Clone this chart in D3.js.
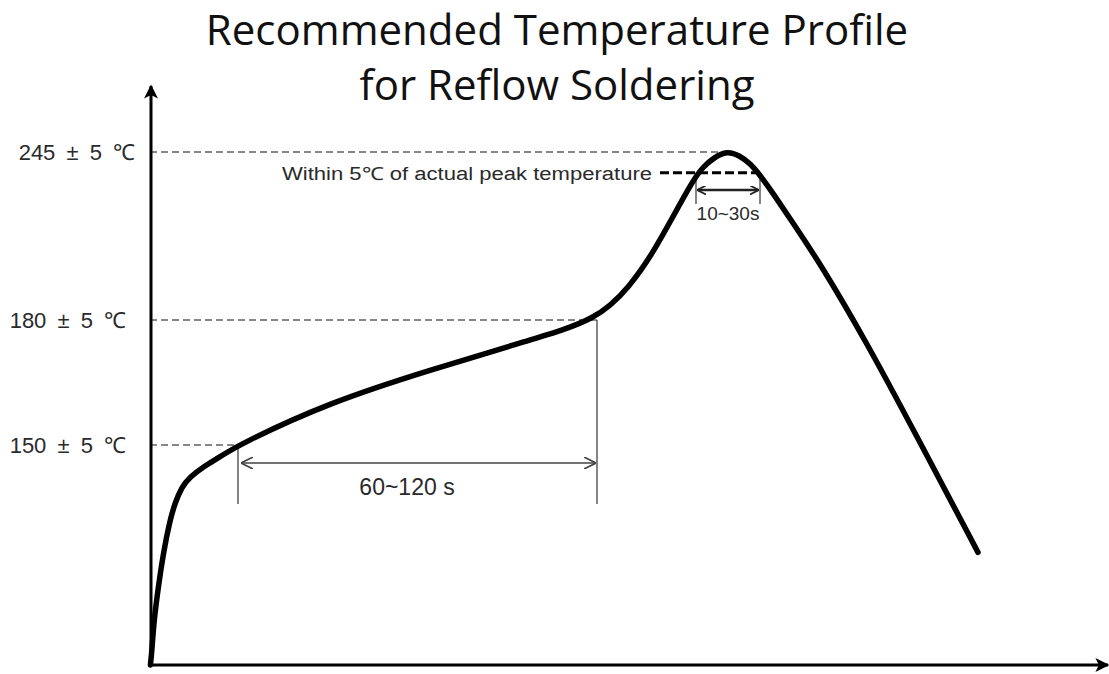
<!DOCTYPE html>
<html>
<head>
<meta charset="utf-8">
<script src="https://cdn.jsdelivr.net/npm/d3@7"></script>
<style>
  body { margin: 0; background: #fff; }
  svg { display: block; }
  .lbl { font-family: "Liberation Sans", Arial, sans-serif; fill: #2a2a2a; }
  .title { font-family: "Open Sans", sans-serif; fill: #111; }
</style>
</head>
<body>
<svg id="chart" width="1109" height="674"></svg>
<script>
// profile: time (s) and temperature (°C)
const profileTime = [0.1, 0.43, 1, 2.08, 3.33, 5, 6.25, 7.9, 10, 13.25, 17.5, 22, 45, 70, 95, 111.75,
  120, 125.75, 130.75, 135.8, 138.3, 140.8, 144.25, 147.5, 150, 152.5, 155.75, 160.75, 167.5, 179.25, 191.75, 207];
const profileTemp = [25, 31.8, 50.6, 69.3, 88.6, 107.4, 117, 126.1, 131.8, 137.5, 143.2, 150, 160.3, 168, 175.2, 180,
  193, 206, 220, 234.2, 239.3, 242.6, 245.5, 243.5, 240.6, 236.1, 229.1, 217.5, 202, 174.5, 152, 89];

const levelTemps = [245, 180, 150];
const levelLabels = ["245 ± 5 ℃", "180 ± 5 ℃", "150 ± 5 ℃"];
const levelEndTimes = [142, 111.75, 22];

const soakTimes = [22, 111.75];
const soakLabel = "60~120 s";
const peakWindowTimes = [136.5, 152.5];
const peakWindowTemp = 237;
const peakWindowLabel = "10~30s";
const peakNote = "Within 5℃ of actual peak temperature";
const titleLines = ["Recommended  Temperature Profile", "for  Reflow Soldering"];

const svg = d3.select("#chart");

// schematic axis: time is linear, temperature is stretched piecewise like the drawing
const x = d3.scaleLinear().domain([0, 240]).range([150, 1110]);
const y = d3.scaleLinear().domain([25, 150, 180, 245]).range([665, 445, 320, 152]);

const profile = profileTime.map((t, i) => [t, profileTemp[i]]);

// title
svg.selectAll(".title")
  .data(titleLines)
  .enter()
  .append("text")
  .attr("class", "title")
  .attr("x", 557)
  .attr("y", (d, i) => 45 + i * 55)
  .attr("text-anchor", "middle")
  .attr("font-size", 42)
  .text(d => d);

// markers
const defs = svg.append("defs");
defs.append("marker")
  .attr("id", "axisHead")
  .attr("viewBox", "0 0 10 10")
  .attr("refX", 9).attr("refY", 5)
  .attr("markerUnits", "userSpaceOnUse")
  .attr("markerWidth", 16).attr("markerHeight", 14)
  .attr("orient", "auto")
  .append("path").attr("d", "M0,0 L10,5 L0,10 L2.5,5 Z").attr("fill", "#000");

defs.append("marker")
  .attr("id", "openHead")
  .attr("viewBox", "0 0 10 10")
  .attr("refX", 10).attr("refY", 5)
  .attr("markerUnits", "userSpaceOnUse")
  .attr("markerWidth", 12).attr("markerHeight", 12)
  .attr("orient", "auto-start-reverse")
  .append("path").attr("d", "M0,0 L10,5 L0,10").attr("fill", "none").attr("stroke", "#444").attr("stroke-width", 1.4);

defs.append("marker")
  .attr("id", "solidHead")
  .attr("viewBox", "0 0 10 10")
  .attr("refX", 9).attr("refY", 5)
  .attr("markerUnits", "userSpaceOnUse")
  .attr("markerWidth", 9).attr("markerHeight", 9)
  .attr("orient", "auto-start-reverse")
  .append("path").attr("d", "M0,0 L10,5 L0,10").attr("fill", "none").attr("stroke", "#222").attr("stroke-width", 2);

// dashed guide lines from the y axis to the curve
svg.selectAll(".level")
  .data(levelTemps)
  .enter()
  .append("line")
  .attr("x1", x(0))
  .attr("x2", (d, i) => x(levelEndTimes[i]))
  .attr("y1", d => y(d))
  .attr("y2", d => y(d))
  .attr("stroke", "#111")
  .attr("stroke-width", 1)
  .attr("stroke-dasharray", "7,4");

svg.selectAll(".levelLbl")
  .data(levelTemps)
  .enter()
  .append("text")
  .attr("class", "lbl")
  .attr("x", (d, i) => i === 0 ? 135 : 126)
  .attr("y", d => y(d) + 8)
  .attr("text-anchor", "end")
  .attr("font-size", 22)
  .attr("word-spacing", 5)
  .text((d, i) => levelLabels[i]);

// soak window
svg.selectAll(".soakTick")
  .data(soakTimes)
  .enter()
  .append("line")
  .attr("x1", d => x(d)).attr("x2", d => x(d))
  .attr("y1", d => y(d === soakTimes[0] ? 150 : 180))
  .attr("y2", 504)
  .attr("stroke", "#333")
  .attr("stroke-width", 1.2);

svg.append("line")
  .attr("x1", x(soakTimes[0]) + 3).attr("x2", x(soakTimes[1]) - 1)
  .attr("y1", 463).attr("y2", 463)
  .attr("stroke", "#444").attr("stroke-width", 1.4)
  .attr("marker-start", "url(#openHead)")
  .attr("marker-end", "url(#openHead)");

svg.append("text")
  .attr("class", "lbl")
  .attr("x", 407)
  .attr("y", 495)
  .attr("text-anchor", "middle")
  .attr("font-size", 23)
  .text(soakLabel);

// peak window
svg.append("line")
  .attr("x1", 660).attr("x2", x(peakWindowTimes[1]))
  .attr("y1", y(peakWindowTemp)).attr("y2", y(peakWindowTemp))
  .attr("stroke", "#000").attr("stroke-width", 3)
  .attr("stroke-dasharray", "9,4");

svg.append("text")
  .attr("class", "lbl")
  .attr("x", 652)
  .attr("y", y(peakWindowTemp) + 7)
  .attr("text-anchor", "end")
  .attr("font-size", 18)
  .attr("textLength", 370)
  .attr("lengthAdjust", "spacingAndGlyphs")
  .text(peakNote);

svg.selectAll(".peakTick")
  .data(peakWindowTimes)
  .enter()
  .append("line")
  .attr("x1", d => x(d)).attr("x2", d => x(d))
  .attr("y1", y(peakWindowTemp)).attr("y2", 204)
  .attr("stroke", "#333").attr("stroke-width", 1.2);

svg.append("line")
  .attr("x1", x(peakWindowTimes[0]) + 2).attr("x2", x(peakWindowTimes[1]) - 2)
  .attr("y1", 190).attr("y2", 190)
  .attr("stroke", "#222").attr("stroke-width", 2.5)
  .attr("marker-start", "url(#solidHead)")
  .attr("marker-end", "url(#solidHead)");

svg.append("text")
  .attr("class", "lbl")
  .attr("x", (x(peakWindowTimes[0]) + x(peakWindowTimes[1])) / 2)
  .attr("y", 220)
  .attr("text-anchor", "middle")
  .attr("font-size", 19)
  .text(peakWindowLabel);

// axes
svg.append("line")
  .attr("x1", x(0) + 1).attr("x2", x(0) + 1)
  .attr("y1", y(25)).attr("y2", 86)
  .attr("stroke", "#000").attr("stroke-width", 3)
  .attr("marker-end", "url(#axisHead)");

svg.append("line")
  .attr("x1", x(0)).attr("x2", 1108)
  .attr("y1", y(25)).attr("y2", y(25))
  .attr("stroke", "#000").attr("stroke-width", 3)
  .attr("marker-end", "url(#axisHead)");

// temperature profile
const line = d3.line()
  .x(d => x(d[0]))
  .y(d => y(d[1]))
  .curve(d3.curveBasis);

svg.append("path")
  .datum(profile)
  .attr("d", line)
  .attr("fill", "none")
  .attr("stroke", "#000")
  .attr("stroke-width", 5.5)
  .attr("stroke-linecap", "round")
  .attr("stroke-linejoin", "round");
</script>
</body>
</html>
